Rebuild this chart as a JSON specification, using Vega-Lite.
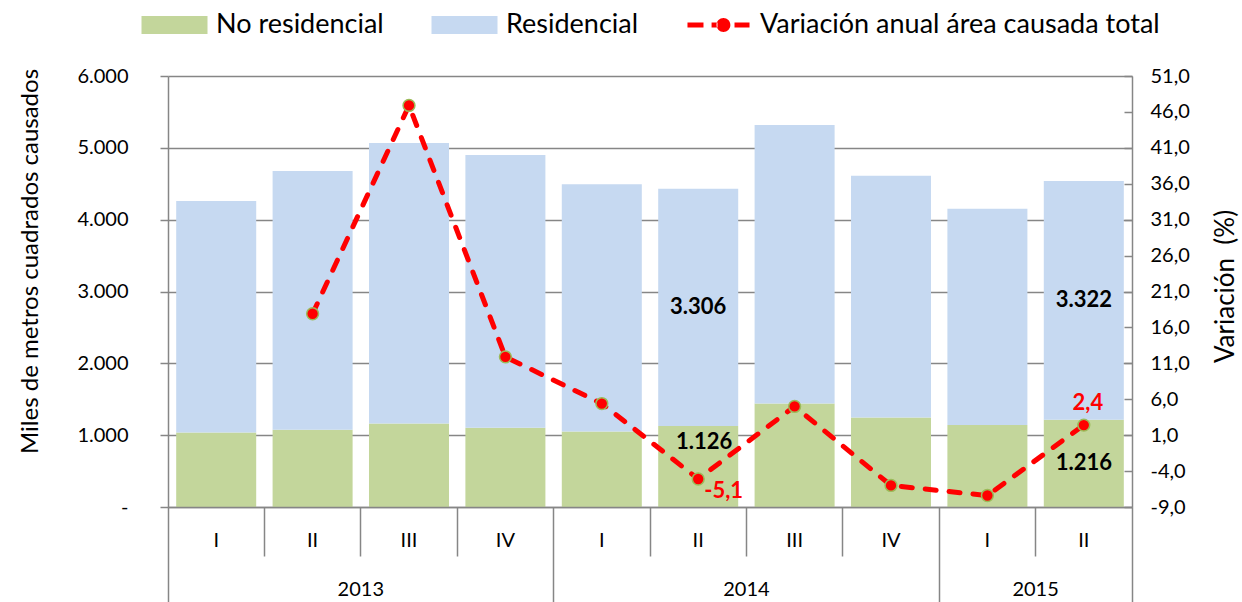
{
  "$schema": "https://vega.github.io/schema/vega-lite/v6.json",
  "width": 964,
  "height": 431,
  "autosize": {"type": "none"},
  "padding": {"left": 168, "top": 76, "right": 110, "bottom": 95},
  "background": "white",
  "config": {
    "view": {"stroke": null},
    "font": "Lato",
    "locale": {"number": {"decimal": ",", "thousands": ".", "grouping": [3], "currency": ["", ""], "minus": "-"}},
    "axis": {"labelFont": "Lato", "titleFont": "Lato", "labelColor": "#000000", "titleColor": "#000000", "titleFontWeight": "normal", "domainColor": "#868686", "tickColor": "#868686", "domainWidth": 1.5, "tickWidth": 1.5, "gridColor": "#868686", "gridWidth": 1.5, "labelOverlap": false, "labelBound": false, "labelFlush": false}
  },
  "datasets": {
    "d": [
      {"q": "2013-I", "No residencial": 1037, "Residencial": 3223, "var": null},
      {"q": "2013-II", "No residencial": 1074, "Residencial": 3604, "var": 17.9},
      {"q": "2013-III", "No residencial": 1163, "Residencial": 3905, "var": 46.9},
      {"q": "2013-IV", "No residencial": 1102, "Residencial": 3799, "var": 11.9},
      {"q": "2014-I", "No residencial": 1051, "Residencial": 3442, "var": 5.4},
      {"q": "2014-II", "No residencial": 1126, "Residencial": 3306, "var": -5.1},
      {"q": "2014-III", "No residencial": 1441, "Residencial": 3877, "var": 5.0},
      {"q": "2014-IV", "No residencial": 1246, "Residencial": 3366, "var": -6.0},
      {"q": "2015-I", "No residencial": 1140, "Residencial": 3013, "var": -7.4},
      {"q": "2015-II", "No residencial": 1216, "Residencial": 3322, "var": 2.4}
    ]
  },
  "data": {"name": "d"},
  "resolve": {"scale": {"x": "independent", "y": "independent"}, "axis": {"x": "independent", "y": "independent"}},
  "layer": [
    {
      "transform": [{"fold": ["No residencial", "Residencial"], "as": ["serie", "valor"]}],
      "mark": {"type": "bar"},
      "encoding": {
        "x": {"field": "q", "type": "nominal", "scale": {"type": "band", "domain": ["2013-I","2013-II","2013-III","2013-IV","2014-I","2014-II","2014-III","2014-IV","2015-I","2015-II"], "paddingInner": 0.17, "paddingOuter": 0.085}, "axis": null},
        "y": {"field": "valor", "type": "quantitative", "stack": "zero", "scale": {"domain": [0, 6000], "nice": false, "zero": false},
          "axis": {"orient": "left", "values": [0,1000,2000,3000,4000,5000,6000], "format": ",.0f", "labelExpr": "datum.value === 0 ? '-' : datum.label", "grid": true, "tickSize": 8, "labelPadding": 32, "labelFontSize": 20, "title": "Miles de metros cuadrados causados", "titleFontSize": 24, "titleAngle": 270, "titleX": -138, "titleY": 185, "titleAlign": "center", "titleBaseline": "middle", "domain": true, "zindex": 0}},
        "color": {"field": "serie", "type": "nominal",
          "scale": {"domain": ["No residencial", "Residencial", "Variación anual área causada total"], "range": ["#C3D69B", "#C6D9F1", "#FF0000"]},
          "legend": {
            "orient": "none", "legendX": -26.5, "legendY": -84, "direction": "horizontal", "title": null,
            "symbolType": "M-1,-0.27H1V0.27H-1Z", "symbolSize": 4356, "symbolStrokeWidth": 0,
            "labelFontSize": 27, "labelFont": "Lato", "labelColor": "#000000", "labelOffset": 8.5, "labelLimit": 800, "columnPadding": 47, "padding": 0,
            "encode": {"symbols": {"update": {
              "shape": {"signal": "datum.value === 'Variación anual área causada total' ? 'M-0.94,-0.076H-0.455V0.076H-0.94Z M-0.21,-0.076H-0.03V0.076H-0.21Z M0.485,-0.076H0.94V0.076H0.485Z M-0.06,0A0.21,0.21,0,1,0,0.36,0A0.21,0.21,0,1,0,-0.06,0Z' : 'M-1,-0.27H1V0.27H-1Z'"},
              "fill": {"signal": "datum.value === 'No residencial' ? '#C3D69B' : datum.value === 'Residencial' ? '#C6D9F1' : '#FF0000'"},
              "stroke": {"value": "transparent"},
              "opacity": {"value": 1}
            }}}
          }},
        "order": {"field": "serie", "sort": "ascending"}
      }
    },
    {
      "mark": {"type": "line", "strokeWidth": 5, "strokeDash": [11, 13], "strokeCap": "round"},
      "encoding": {
        "x": {"field": "q", "type": "nominal", "scale": {"type": "band", "domain": ["2013-I","2013-II","2013-III","2013-IV","2014-I","2014-II","2014-III","2014-IV","2015-I","2015-II"], "paddingInner": 0.17, "paddingOuter": 0.085}, "axis": null},
        "y": {"field": "var", "type": "quantitative", "scale": {"domain": [-9, 51], "nice": false, "zero": false},
          "axis": {"orient": "right", "values": [-9,-4,1,6,11,16,21,26,31,36,41,46,51], "format": ".1f", "tickSize": -8, "labelPadding": 26, "labelFontSize": 20, "grid": false, "title": "Variación\u00a0\u00a0(%)", "titleFontSize": 26, "titleAngle": 270, "titleX": 93, "titleY": 210, "titleAlign": "center", "titleBaseline": "middle", "domain": true, "zindex": 0}},
        "color": {"datum": "Variación anual área causada total"}
      }
    },
    {
      "mark": {"type": "point", "shape": "circle", "filled": true, "fill": "#FF0000", "stroke": "#9BBB59", "strokeWidth": 1.5, "size": 140, "opacity": 1},
      "encoding": {
        "x": {"field": "q", "type": "nominal", "scale": {"type": "band", "domain": ["2013-I","2013-II","2013-III","2013-IV","2014-I","2014-II","2014-III","2014-IV","2015-I","2015-II"], "paddingInner": 0.17, "paddingOuter": 0.085}, "axis": null},
        "y": {"field": "var", "type": "quantitative", "scale": {"domain": [-9, 51], "nice": false, "zero": false}, "axis": null}
      }
    },
    {
      "transform": [
        {"fold": ["No residencial", "Residencial"], "as": ["serie", "valor"]},
        {"stack": "valor", "groupby": ["q"], "sort": [{"field": "serie", "order": "ascending"}], "as": ["v0", "v1"]},
        {"filter": "(datum.q === '2014-II' && datum.serie === 'Residencial') || datum.q === '2015-II'"},
        {"fold": ["v0", "v1"], "as": ["extremo", "pos"]},
        {"aggregate": [{"op": "mean", "field": "pos", "as": "medio"}], "groupby": ["q", "serie", "valor"]}
      ],
      "mark": {"type": "text", "font": "Lato", "fontWeight": "bold", "fontSize": 22, "color": "#000000", "baseline": "middle", "align": "center"},
      "encoding": {
        "x": {"field": "q", "type": "nominal", "scale": {"type": "band", "domain": ["2013-I","2013-II","2013-III","2013-IV","2014-I","2014-II","2014-III","2014-IV","2015-I","2015-II"], "paddingInner": 0.17, "paddingOuter": 0.085}, "axis": null},
        "y": {"field": "medio", "type": "quantitative", "scale": {"domain": [0, 6000], "nice": false, "zero": false}, "axis": null},
        "text": {"field": "valor", "type": "quantitative", "format": ",.0f"}
      }
    },
    {
      "transform": [
        {"fold": ["No residencial", "Residencial"], "as": ["serie", "valor"]},
        {"stack": "valor", "groupby": ["q"], "sort": [{"field": "serie", "order": "ascending"}], "as": ["v0", "v1"]},
        {"filter": "datum.q === '2014-II' && datum.serie === 'No residencial'"},
        {"fold": ["v0", "v1"], "as": ["extremo", "pos"]},
        {"aggregate": [{"op": "mean", "field": "pos", "as": "medio"}], "groupby": ["q", "serie", "valor"]}
      ],
      "mark": {"type": "text", "font": "Lato", "fontWeight": "bold", "fontSize": 22, "color": "#000000", "baseline": "middle", "align": "center", "dx": 6, "dy": -25},
      "encoding": {
        "x": {"field": "q", "type": "nominal", "scale": {"type": "band", "domain": ["2013-I","2013-II","2013-III","2013-IV","2014-I","2014-II","2014-III","2014-IV","2015-I","2015-II"], "paddingInner": 0.17, "paddingOuter": 0.085}, "axis": null},
        "y": {"field": "medio", "type": "quantitative", "scale": {"domain": [0, 6000], "nice": false, "zero": false}, "axis": null},
        "text": {"field": "valor", "type": "quantitative", "format": ",.0f"}
      }
    },
    {
      "transform": [{"filter": "datum.q === '2014-II'"}],
      "mark": {"type": "text", "font": "Lato", "fontWeight": "bold", "fontSize": 22, "color": "#FF0000", "baseline": "middle", "align": "left", "dx": 6, "dy": 12},
      "encoding": {
        "x": {"field": "q", "type": "nominal", "scale": {"type": "band", "domain": ["2013-I","2013-II","2013-III","2013-IV","2014-I","2014-II","2014-III","2014-IV","2015-I","2015-II"], "paddingInner": 0.17, "paddingOuter": 0.085}, "axis": null},
        "y": {"field": "var", "type": "quantitative", "scale": {"domain": [-9, 51], "nice": false, "zero": false}, "axis": null},
        "text": {"field": "var", "type": "quantitative", "format": ".1f"}
      }
    },
    {
      "transform": [{"filter": "datum.q === '2015-II'"}],
      "mark": {"type": "text", "font": "Lato", "fontWeight": "bold", "fontSize": 22, "color": "#FF0000", "baseline": "middle", "align": "center", "dx": 4, "dy": -22},
      "encoding": {
        "x": {"field": "q", "type": "nominal", "scale": {"type": "band", "domain": ["2013-I","2013-II","2013-III","2013-IV","2014-I","2014-II","2014-III","2014-IV","2015-I","2015-II"], "paddingInner": 0.17, "paddingOuter": 0.085}, "axis": null},
        "y": {"field": "var", "type": "quantitative", "scale": {"domain": [-9, 51], "nice": false, "zero": false}, "axis": null},
        "text": {"field": "var", "type": "quantitative", "format": ".1f"}
      }
    },
    {
      "mark": {"type": "text", "text": ""},
      "encoding": {
        "x": {"field": "q", "type": "nominal", "scale": {"type": "band", "domain": ["2013-I","2013-II","2013-III","2013-IV","2014-I","2014-II","2014-III","2014-IV","2015-I","2015-II"], "paddingInner": 0, "paddingOuter": 0},
          "axis": {"orient": "bottom", "bandPosition": 0, "labelExpr": "split(datum.value, '-')[1]", "labelAlign": "center", "labelAngle": 0, "labelFontSize": 20,
            "labelPadding": {"condition": {"test": "indexof(['2013-I','2014-I','2015-I'], datum.value) >= 0", "value": -73}, "value": -26},
            "tickSize": {"condition": {"test": "indexof(['2013-I','2014-I','2015-I'], datum.value) >= 0", "value": 96}, "value": 49},
            "title": null, "domain": true, "grid": false, "zindex": 1}}
      }
    },
    {
      "mark": {"type": "text", "text": ""},
      "encoding": {
        "x": {"field": "q", "type": "nominal", "scale": {"type": "band", "domain": ["2013-I","2013-II","2013-III","2013-IV","2014-I","2014-II","2014-III","2014-IV","2015-I","2015-II"], "paddingInner": 0, "paddingOuter": 0},
          "axis": {"orient": "bottom", "bandPosition": 1, "values": ["2013-II", "2014-II", "2015-II"], "labelExpr": "slice(datum.value, 0, 4)", "labelAlign": "center", "labelAngle": 0, "labelFontSize": 20, "labelPadding": -24,
            "labelOffset": {"condition": {"test": "datum.value === '2015-II'", "value": -48.2}, "value": 48.2},
            "tickSize": 96,
            "tickOpacity": {"condition": {"test": "datum.value === '2015-II'", "value": 1}, "value": 0},
            "title": null, "domain": false, "grid": false, "zindex": 1}}
      }
    }
  ]
}
